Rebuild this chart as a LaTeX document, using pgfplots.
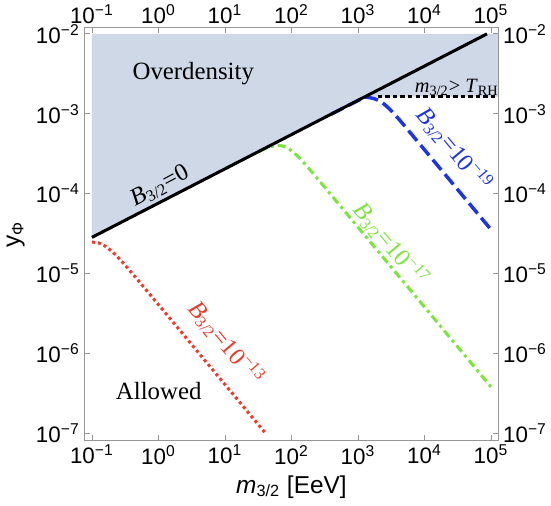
\documentclass[border=0pt]{standalone}
\usepackage{fontspec}
\setmainfont{Liberation Serif}
\setsansfont{Liberation Sans}
\usepackage{pgfplots}
\pgfplotsset{compat=1.18}

\definecolor{shade}{RGB}{207,216,230}
\definecolor{cred}{RGB}{235,60,45}
\definecolor{cgreen}{RGB}{125,228,62}
\definecolor{cblue}{RGB}{28,52,230}
\definecolor{framegray}{RGB}{150,150,150}

\pgfplotsset{
  sharedax/.style={
    scale only axis, width=203.8pt, height=203pt,
    xmin=0.0766, xmax=130600, ymin=8.07e-8, ymax=0.01192,
    xtick={0.1,1,10,100,1000,10000,100000},
    xticklabels={10\textsuperscript{−1},10\textsuperscript{0},10\textsuperscript{1},10\textsuperscript{2},10\textsuperscript{3},10\textsuperscript{4},10\textsuperscript{5}},
    ytick={1e-7,1e-6,1e-5,1e-4,1e-3,1e-2},
    yticklabels={10\textsuperscript{−7},10\textsuperscript{−6},10\textsuperscript{−5},10\textsuperscript{−4},10\textsuperscript{−3},10\textsuperscript{−2}},
    xminorticks=false, yminorticks=false,
    tick align=inside, major tick length=2.8pt,
    tick style={framegray, line width=0.4pt},
    axis line style={framegray, line width=0.5pt},
    tick label style={font=\fontsize{11}{13}\selectfont\sffamily, inner sep=2pt},
    label style={font=\fontsize{12}{14}\selectfont\sffamily},
  }
}

\begin{document}
\begin{tikzpicture}
  \begin{loglogaxis}[sharedax,
      xlabel={\textit{m}\textsubscript{3/2} [EeV]},
      ylabel={y\textsubscript{Φ}},
    ]
    % excluded region
    \addplot[fill=shade, draw=none] coordinates {
      (0.1,2.831e-5) (1279,1.637e-3) (130600,1.637e-3) (130600,0.01) (0.1,0.01)
    } --cycle;
    % B = 1e-13
    \addplot[cred, line width=1.5pt, smooth, dash pattern=on 1.5pt off 1.5pt] coordinates {
      (0.1,2.472e-5) (0.1259,2.410e-5) (0.1585,2.198e-5) (0.1995,1.892e-5) (0.2512,1.567e-5)
      (0.3162,1.268e-5) (0.3981,1.016e-5) (0.5012,8.110e-6) (0.6310,6.442e-6) (1,4.074e-6)
      (3.162,1.288e-6) (10,4.074e-7) (39.81,1.023e-7)
    };
    % B = 1e-17
    \addplot[cgreen, line width=1.5pt, smooth, dash pattern=on 4pt off 2pt on 1.5pt off 2pt] coordinates {
      (10,2.042e-4) (25.12,3.027e-4) (39.81,3.631e-4) (50.12,3.890e-4) (63.10,4.018e-4)
      (79.43,3.868e-4) (100,3.451e-4) (125.9,2.904e-4) (158.5,2.360e-4) (251.2,1.510e-4)
      (1000,3.802e-5) (10000,3.802e-6) (100000,3.802e-7)
    };
    % B = 1e-19
    \addplot[cblue, line width=1.7pt, dash pattern=on 6.5pt off 2.8pt] coordinates {
      (398.1,9.908e-4) (1279,1.622e-3) (1585,1.575e-3) (1778,1.538e-3) (1995,1.479e-3)
      (2239,1.401e-3) (2512,1.306e-3) (2818,1.199e-3) (3162,1.091e-3) (3981,8.831e-4)
      (5012,7.063e-4) (100000,3.548e-5)
    };
    % B = 0 boundary
    \addplot[black, line width=1.5pt] coordinates {(0.1,2.831e-5) (87100,0.01)};
    % m > T_RH
    \addplot[black, line width=1.7pt, dash pattern=on 2.2pt off 1.5pt] coordinates {(1995,1.637e-3) (130600,1.637e-3)};

    \node[font=\fontsize{12.2}{14}\selectfont] at (axis cs:3.34,3.21e-3) {Overdensity};
    \node[font=\fontsize{12.2}{14}\selectfont] at (axis cs:1.01,3.4e-7) {Allowed};
    \node[font=\fontsize{10}{12}\selectfont] at (axis cs:30550,2.13e-3) {\textit{m}\textsubscript{3/2}> \textit{T}\textsubscript{RH}};
    \node[font=\fontsize{12}{14}\selectfont, rotate=28] at (axis cs:1.047,1.24e-4) {\textit{B}\textsubscript{3/2}=0};
    \node[font=\fontsize{12}{14}\selectfont, rotate=-50, text=cblue] at (axis cs:28000,3.6e-4) {\textit{B}\textsubscript{3/2}=10\textsuperscript{−19}};
    \node[font=\fontsize{12}{14}\selectfont, rotate=-50, text=cgreen] at (axis cs:3097,2.33e-5) {\textit{B}\textsubscript{3/2}=10\textsuperscript{−17}};
    \node[font=\fontsize{12}{14}\selectfont, rotate=-50, text=cred] at (axis cs:10.33,1.35e-6) {\textit{B}\textsubscript{3/2}=10\textsuperscript{−13}};
  \end{loglogaxis}
  \begin{loglogaxis}[sharedax, xticklabel pos=right, yticklabel pos=right]
  \end{loglogaxis}
\end{tikzpicture}
\end{document}
